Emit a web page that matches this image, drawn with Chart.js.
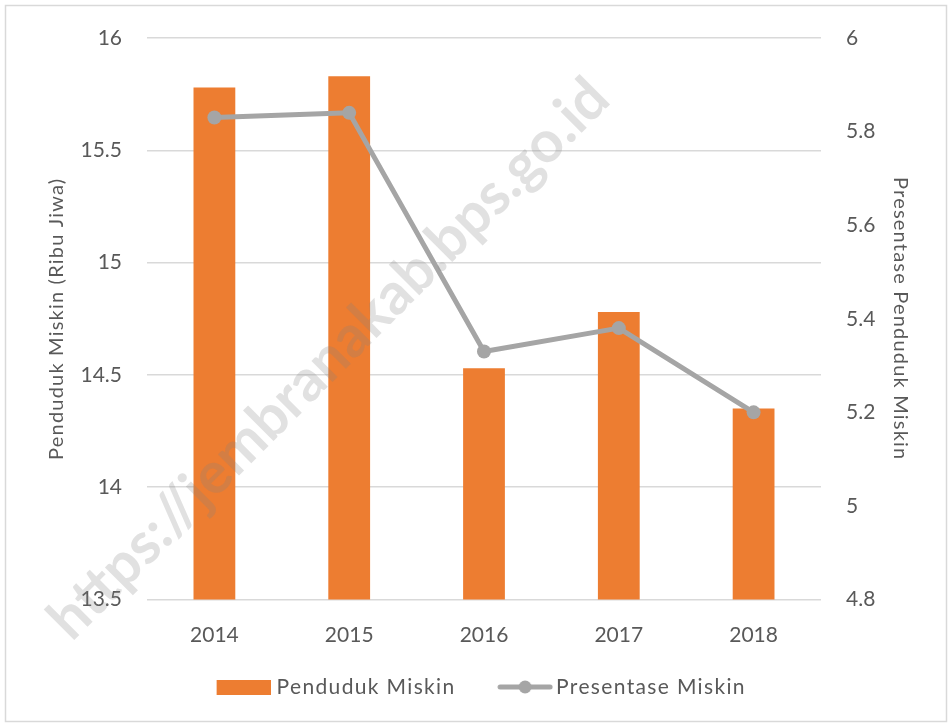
<!DOCTYPE html>
<html>
<head>
<meta charset="utf-8">
<script src="https://cdn.jsdelivr.net/npm/chart.js@4.4.1/dist/chart.umd.min.js"></script>
<style>
  html, body { margin: 0; padding: 0; background: #fff; }
  #wrap { width: 950px; height: 725px; }
</style>
</head>
<body>
<div id="wrap"><canvas id="poverty-chart" width="950" height="725"></canvas></div>
<script>
// data
const years = ['2014', '2015', '2016', '2017', '2018'];
const pendudukMiskin = [15.78, 15.83, 14.53, 14.78, 14.35];   // ribu jiwa
const presentaseMiskin = [5.83, 5.84, 5.33, 5.38, 5.20];      // persen
const leftRange = [13.5, 16, 0.5];
const rightRange = [4.8, 6, 0.2];

const seriesNames = ['Penduduk Miskin', 'Presentase Miskin'];
const axisTitles = ['Penduduk Miskin (Ribu Jiwa)', 'Presentase Penduduk Miskin'];
const watermark = 'https://jembranakab.bps.go.id';

const ORANGE = '#ED7D31';
const GREY = '#A5A5A5';
const TEXT = '#595959';
const FONT = 'Lato, "Open Sans", sans-serif';

// legend swatches: box is 62 wide, the mark sits 12.5px in from its left
function barSwatch() {
    const c = document.createElement('canvas');
    c.width = 71; c.height = 15;
    const g = c.getContext('2d');
    g.fillStyle = ORANGE;
    g.fillRect(17, 0, 54, 15);
    return c;
}
function lineSwatch() {
    const c = document.createElement('canvas');
    c.width = 77; c.height = 16;
    const g = c.getContext('2d');
    g.strokeStyle = GREY;
    g.lineWidth = 5;
    g.lineCap = 'round';
    g.beginPath();
    g.moveTo(24, 8);
    g.lineTo(74, 8);
    g.stroke();
    g.fillStyle = GREY;
    g.beginPath();
    g.arc(49, 8, 6.5, 0, Math.PI * 2);
    g.fill();
    return c;
}

const fmt = v => String(parseFloat(Number(v).toFixed(2)));

// run a method with wider letter spacing (Excel spreads its text a bit)
function spaced(obj, fn, px) {
    if (!obj || obj['_sp_' + fn]) return;
    const orig = obj[fn];
    obj[fn] = function (...args) {
        const ctx = this.ctx;
        const prev = ctx.letterSpacing;
        ctx.letterSpacing = px;
        try { return orig.apply(this, args); }
        finally { ctx.letterSpacing = prev; }
    };
    obj['_sp_' + fn] = true;
}

// white page with thin frame, watermark on top
const framePlugin = {
    id: 'frame',
    afterInit(chart) {
        spaced(chart.legend, 'fit', '1.35px');
        spaced(chart.legend, 'draw', '1.35px');
    },
    beforeDraw(chart) {
        spaced(chart.scales.y, 'drawTitle', '1.2px');
        spaced(chart.scales.y1, 'drawTitle', '1.2px');
        const ctx = chart.ctx;
        ctx.save();
        ctx.fillStyle = '#fff';
        ctx.fillRect(0, 0, chart.width, chart.height);
        ctx.strokeStyle = '#D9D9D9';
        ctx.lineWidth = 1.5;
        ctx.strokeRect(5.5, 5.5, chart.width - 9, chart.height - 9);
        ctx.restore();
    },
    afterDraw(chart) {
        const ctx = chart.ctx;
        ctx.save();
        let size = 50;
        ctx.font = 'bold ' + size + 'px ' + FONT;
        const w = ctx.measureText(watermark).width;
        size = size * 765 / w;
        ctx.font = 'bold ' + size + 'px ' + FONT;
        ctx.translate(329, 359);
        ctx.rotate(-Math.PI / 4);
        ctx.textAlign = 'center';
        ctx.textBaseline = 'middle';
        ctx.fillStyle = 'rgba(128,128,128,0.24)';
        ctx.fillText(watermark, 0, 0);
        ctx.restore();
    }
};

new Chart('poverty-chart', {
    type: 'bar',
    data: {
        labels: years,
        datasets: [{
            type: 'bar',
            label: seriesNames[0],
            data: pendudukMiskin,
            backgroundColor: ORANGE,
            barPercentage: 0.31,
            categoryPercentage: 1,
            yAxisID: 'y',
            order: 2
        }, {
            type: 'line',
            label: seriesNames[1],
            data: presentaseMiskin,
            borderColor: GREY,
            backgroundColor: GREY,
            borderWidth: 5,
            borderJoinStyle: 'round',
            pointRadius: 7,
            pointBackgroundColor: GREY,
            pointBorderColor: GREY,
            pointBorderWidth: 0,
            tension: 0,
            yAxisID: 'y1',
            order: 1
        }]
    },
    options: {
        responsive: false,
        animation: false,
        devicePixelRatio: 1,
        layout: { padding: { top: 38, left: 0, right: 0, bottom: 17.5 } },
        plugins: {
            tooltip: { enabled: false },
            legend: {
                position: 'bottom',
                labels: {
                    usePointStyle: true,
                    pointStyleWidth: 62,
                    padding: 28,
                    color: TEXT,
                    font: { family: FONT, size: 21 },
                    generateLabels: () => [
                        { text: seriesNames[0], pointStyle: barSwatch(), fontColor: TEXT, lineWidth: 0, datasetIndex: 0 },
                        { text: seriesNames[1], pointStyle: lineSwatch(), fontColor: TEXT, lineWidth: 0, datasetIndex: 1 }
                    ]
                }
            }
        },
        scales: {
            x: {
                grid: { display: false },
                border: { display: false },
                ticks: { color: TEXT, font: { family: FONT, size: 21 }, padding: 15 },
                afterFit: s => { s.height = 49; }
            },
            y: {
                position: 'left',
                min: leftRange[0],
                max: leftRange[1],
                grid: { color: '#D9D9D9', lineWidth: 1.5, drawTicks: false },
                border: { display: false },
                ticks: { stepSize: leftRange[2], color: TEXT, font: { family: FONT, size: 21 }, padding: 25, callback: fmt },
                title: { display: true, text: axisTitles[0], color: TEXT, font: { family: FONT, size: 20 }, padding: { top: 45, bottom: 0 } },
                afterFit: s => { s.width = 147; }
            },
            y1: {
                position: 'right',
                min: rightRange[0],
                max: rightRange[1],
                grid: { display: false, drawTicks: false },
                border: { display: false },
                ticks: { stepSize: rightRange[2], color: TEXT, font: { family: FONT, size: 21 }, padding: 25, callback: fmt },
                title: { display: true, text: axisTitles[1], color: TEXT, font: { family: FONT, size: 20 }, padding: { top: 38, bottom: 0 } },
                afterFit: s => { s.width = 129; }
            }
        }
    },
    plugins: [framePlugin]
});
</script>
</body>
</html>
